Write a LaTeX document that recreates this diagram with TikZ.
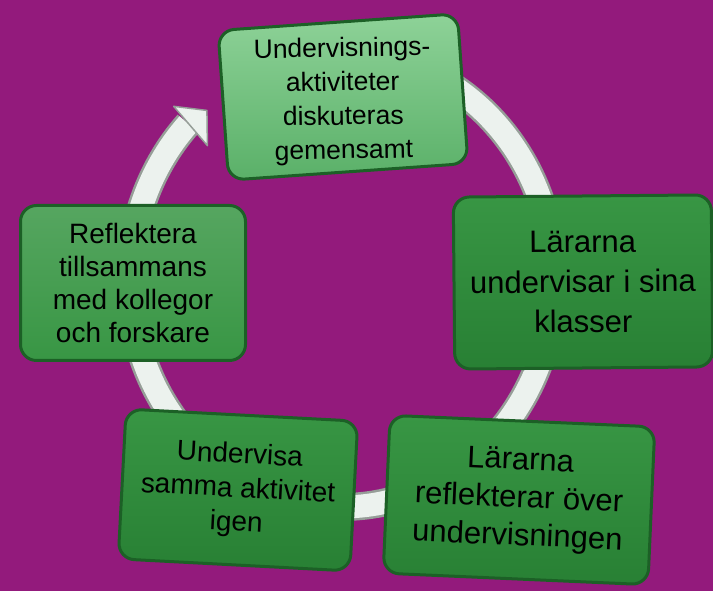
\documentclass[tikz,border=0pt]{standalone}
\usepackage{fontspec}
\setmainfont{Liberation Sans}
\definecolor{bgpurple}{RGB}{147,26,124}
\definecolor{lightleaf}{RGB}{142,210,152}
\definecolor{midleaf}{RGB}{90,176,104}
\definecolor{leaf}{RGB}{56,150,68}
\definecolor{deepleaf}{RGB}{40,128,52}
\definecolor{rim}{RGB}{28,96,38}
\definecolor{ringgray}{RGB}{150,158,152}
\definecolor{ringwhite}{RGB}{236,242,238}

\begin{document}
\begin{tikzpicture}[
    x=1pt, y=1pt,
    stepbox/.style={rectangle, rounded corners=16pt, draw=rim, line width=3pt, align=center, inner sep=0pt, text=black},
    darkbox/.style={stepbox, top color=leaf, bottom color=deepleaf},
    cyclering/.style={line width=28pt, draw=ringgray},
    cyclecore/.style={line width=23pt, draw=ringwhite},
    cyclehead/.style={fill=ringwhite, draw=ringgray, line width=1.5pt, line join=round}
]

% Background
\fill[bgpurple] (0,0) rectangle (713,591);
\useasboundingbox (0,0) rectangle (713,591);

% Ring with arrow
\coordinate (mid) at (342,311);
\draw[cyclering] (mid) ++(95:212 and 227) arc[start angle=95, end angle=-223.5, x radius=212, y radius=227];
\draw[cyclecore] (mid) ++(95:212 and 227) arc[start angle=95, end angle=-223.5, x radius=212, y radius=227];
\filldraw[cyclehead, shift={(mid)}] (136:234 and 250) -- (130.5:208 and 223) -- (137:184 and 197) -- cycle;

% Steps
\node[stepbox, top color=lightleaf, bottom color=midleaf, minimum width=240pt, minimum height=150pt, rotate=4] (discuss) at (343,494) {};
\node[align=center, rotate=1, font=\fontsize{26.5pt}{34pt}\selectfont] (discusstext) at ([yshift=-4pt]discuss.center) {Undervisnings-\\aktiviteter\\diskuteras\\gemensamt};
\node[darkbox, minimum width=258pt, minimum height=172pt, rotate=0.5,
      font=\fontsize{31pt}{40pt}\selectfont] (teach) at (583,309) {Lärarna\\undervisar i sina\\klasser};
\node[darkbox, minimum width=265pt, minimum height=158pt, rotate=-2.5,
      font=\fontsize{31pt}{38pt}\selectfont] (reflect) at (519,91) {Lärarna\\reflekterar över\\undervisningen};
\node[darkbox, minimum width=232pt, minimum height=150pt, rotate=-3,
      font=\fontsize{28pt}{34pt}\selectfont] (again) at (238,101) {Undervisa\\samma aktivitet\\igen};
\node[stepbox, top color=leaf!85!white, bottom color=leaf, minimum width=225pt, minimum height=155pt,
      font=\fontsize{28pt}{33pt}\selectfont] (together) at (133,308) {Reflektera\\tillsammans\\med kollegor\\och forskare};

\end{tikzpicture}
\end{document}
